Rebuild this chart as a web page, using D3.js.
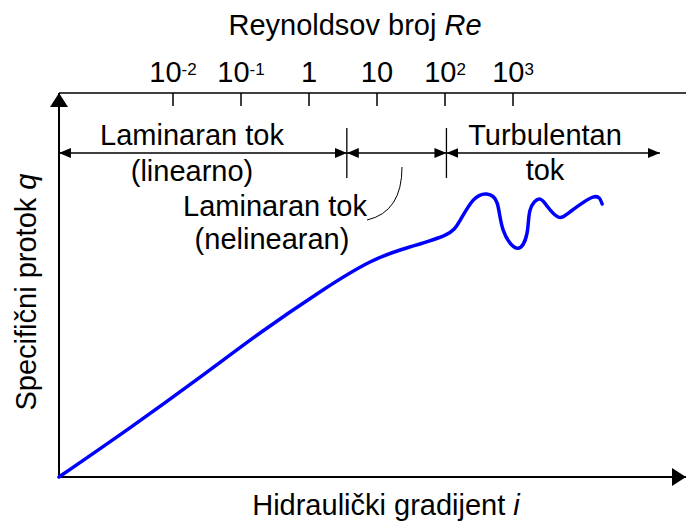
<!DOCTYPE html>
<html>
<head>
<meta charset="utf-8">
<script src="https://cdn.jsdelivr.net/npm/d3@7"></script>
<style>
  body { margin: 0; background: #fff; }
  text { font-family: "Liberation Sans", Arial, sans-serif; fill: #000; }
</style>
</head>
<body>
<svg id="graph" width="686" height="523"></svg>
<script>
// hidraulicki gradijent i (bez jedinica) i specificni protok q
const gradI = [0, 11.6, 23.1, 32.9, 42.7, 50.9, 57.4, 63.2, 65.6, 67.8, 70.0, 71.7, 72.7, 75.0, 76.6, 77.1, 78.6, 80.0, 81.7, 83.6, 87.4, 88.9];
const flowQ = [0, 12.8, 26.0, 37.5, 48.2, 56.0, 59.9, 63.0, 66.7, 72.1, 73.7, 71.4, 64.3, 59.6, 63.5, 69.5, 72.4, 70.3, 67.7, 69.0, 72.9, 71.1];

// Reynoldsov broj - gornja os
const reTicks = [0.01, 0.1, 1, 10, 100, 1000];
const tickBase = ["10", "10", "1", "10", "10", "10"];
const tickExp = ["-2", "-1", "", "", "2", "3"];

// granice rezima (u Re)
const regionRe = [2.1e-4, 3.6, 105, 1.45e5];

const W = 686, H = 523;
const svg = d3.select('#graph');

const xScale = d3.scaleLinear().domain([0, 100]).range([59, 670]);
const yScale = d3.scaleLinear().domain([0, 100]).range([477, 93]);
const reScale = d3.scaleLog().domain([0.01, 1000]).range([173, 513]);

const defs = svg.append('defs');
// velika strelica za osi
defs.append('marker')
    .attr('id', 'axisArrow')
    .attr('markerUnits', 'userSpaceOnUse')
    .attr('viewBox', '0 0 14 18')
    .attr('refX', 14).attr('refY', 9)
    .attr('markerWidth', 14).attr('markerHeight', 18)
    .attr('orient', 'auto')
    .append('path').attr('d', 'M0,0 L14,9 L0,18 Z').attr('fill', '#000');
// mala strelica za rezime
defs.append('marker')
    .attr('id', 'smallArrow')
    .attr('markerUnits', 'userSpaceOnUse')
    .attr('viewBox', '0 0 12 10')
    .attr('refX', 12).attr('refY', 5)
    .attr('markerWidth', 12).attr('markerHeight', 10)
    .attr('orient', 'auto-start-reverse')
    .append('path').attr('d', 'M0,0 L12,5 L0,10 Z').attr('fill', '#000');

// osi
svg.append('line')
    .attr('x1', xScale(0)).attr('y1', yScale(0))
    .attr('x2', W).attr('y2', yScale(0))
    .attr('stroke', '#000').attr('stroke-width', 2)
    .attr('marker-end', 'url(#axisArrow)');

svg.append('line')
    .attr('x1', xScale(0)).attr('y1', yScale(0))
    .attr('x2', xScale(0)).attr('y2', yScale(100))
    .attr('stroke', '#000').attr('stroke-width', 2)
    .attr('marker-end', 'url(#axisArrow)');

// gornja os (Re)
svg.append('line')
    .attr('x1', xScale(0)).attr('y1', yScale(100))
    .attr('x2', W).attr('y2', yScale(100))
    .attr('stroke', '#000').attr('stroke-width', 1.5);

svg.selectAll('.reTick')
    .data(reTicks)
    .enter()
    .append('line')
    .attr('class', 'reTick')
    .attr('x1', d => reScale(d)).attr('x2', d => reScale(d))
    .attr('y1', yScale(100)).attr('y2', yScale(100) + 13)
    .attr('stroke', '#000').attr('stroke-width', 1.5);

const lbl = svg.selectAll('.reLabel')
    .data(reTicks)
    .enter()
    .append('text')
    .attr('class', 'reLabel')
    .attr('x', d => reScale(d))
    .attr('y', 82)
    .attr('text-anchor', 'middle')
    .attr('font-size', 29);
lbl.append('tspan').text((d, i) => tickBase[i]);
lbl.append('tspan')
    .attr('font-size', 17)
    .attr('dy', -7)
    .text((d, i) => tickExp[i]);

// naslovi osi
const title = svg.append('text')
    .attr('x', 355).attr('y', 35)
    .attr('text-anchor', 'middle')
    .attr('font-size', 29);
title.append('tspan').text('Reynoldsov broj ');
title.append('tspan').attr('font-style', 'italic').text('Re');

const xLab = svg.append('text')
    .attr('x', 386).attr('y', 515)
    .attr('text-anchor', 'middle')
    .attr('font-size', 29);
xLab.append('tspan').text('Hidraulički gradijent ');
xLab.append('tspan').attr('font-style', 'italic').text('i');

const yLab = svg.append('text')
    .attr('transform', 'translate(36, 292) rotate(-90)')
    .attr('text-anchor', 'middle')
    .attr('font-size', 29);
yLab.append('tspan').text('Specifični protok ');
yLab.append('tspan').attr('font-style', 'italic').text('q');

// rezimi toka
const arrowY = 153;
svg.selectAll('.region')
    .data(d3.pairs(regionRe))
    .enter()
    .append('line')
    .attr('class', 'region')
    .attr('x1', d => reScale(d[0])).attr('x2', d => reScale(d[1]))
    .attr('y1', arrowY).attr('y2', arrowY)
    .attr('stroke', '#000').attr('stroke-width', 1.3)
    .attr('marker-start', 'url(#smallArrow)')
    .attr('marker-end', 'url(#smallArrow)');

svg.selectAll('.divider')
    .data(regionRe.slice(1, 3))
    .enter()
    .append('line')
    .attr('class', 'divider')
    .attr('x1', d => reScale(d)).attr('x2', d => reScale(d))
    .attr('y1', 128).attr('y2', 178)
    .attr('stroke', '#000').attr('stroke-width', 1.3);

const notes = [
  { t: 'Laminaran tok', x: 192, y: 145 },
  { t: '(linearno)', x: 192, y: 181 },
  { t: 'Laminaran tok', x: 275, y: 216 },
  { t: '(nelinearan)', x: 272, y: 249 },
  { t: 'Turbulentan', x: 545, y: 145 },
  { t: 'tok', x: 545, y: 180 }
];
svg.selectAll('.note')
    .data(notes)
    .enter()
    .append('text')
    .attr('class', 'note')
    .attr('x', d => d.x).attr('y', d => d.y)
    .attr('text-anchor', 'middle')
    .attr('font-size', 29)
    .text(d => d.t);

// pokazivac za nelinearni rezim
svg.append('path')
    .attr('d', 'M367,220 Q402,212 402,167')
    .attr('fill', 'none')
    .attr('stroke', '#000').attr('stroke-width', 1);

// krivulja q(i)
const line = d3.line()
    .x((d, i) => xScale(gradI[i]))
    .y(d => yScale(d))
    .curve(d3.curveNatural);

svg.append('path')
    .datum(flowQ)
    .attr('d', line)
    .attr('fill', 'none')
    .attr('stroke', '#0000ff')
    .attr('stroke-width', 3.5)
    .attr('stroke-linecap', 'round');
</script>
</body>
</html>
